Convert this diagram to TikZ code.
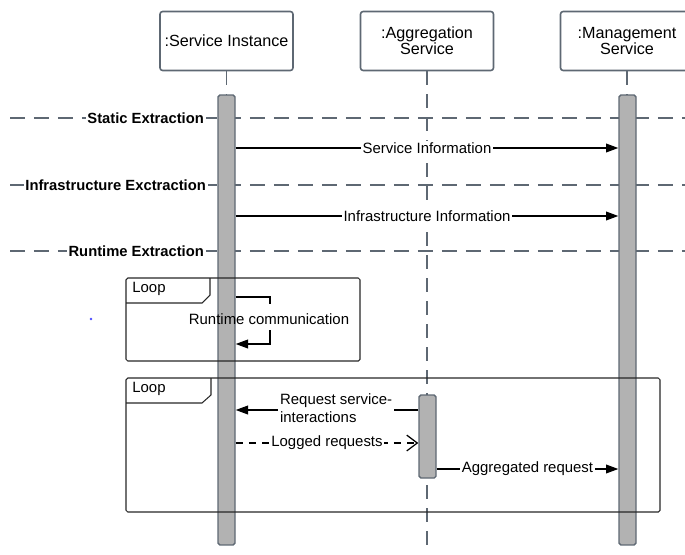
\documentclass[tikz,border=0pt]{standalone}
\usepackage{fontspec}
\setmainfont{Liberation Sans}
\usetikzlibrary{arrows.meta}
\definecolor{lineclr}{HTML}{5E6873}
\definecolor{barfill}{HTML}{B2B2B2}
\begin{document}
\begin{tikzpicture}[x=0.02cm, y=-0.02cm,
  head/.style={draw=lineclr, line width=0.9pt, rounded corners=1.5pt, fill=white,
    minimum width=2.66cm, minimum height=1.18cm, align=center, inner sep=0pt,
    font=\fontsize{9.2}{9.3}\selectfont},
  life/.style={draw=lineclr, line width=0.8pt, dash pattern=on 0.28cm off 0.18cm},
  sep/.style={draw=lineclr, line width=0.8pt, dash pattern=on 0.3cm off 0.18cm},
  bar/.style={draw=lineclr, fill=barfill, line width=0.8pt, rounded corners=1pt,
    minimum width=0.34cm, inner sep=0pt},
  msg/.style={draw=black, line width=0.7pt, -{Triangle[length=7pt,width=5pt]}},
  reply/.style={draw=black, line width=0.7pt, dash pattern=on 4pt off 3.5pt,
    -{Straight Barb[length=6pt,width=9pt]}},
  lbl/.style={fill=white, inner sep=1pt, font=\fontsize{8.5}{10.2}\selectfont},
  phase/.style={fill=white, inner sep=1pt, font=\bfseries\fontsize{8.4}{10}\selectfont},
  frame/.style={draw=black!85, line width=0.6pt, rounded corners=1pt}
]
\useasboundingbox (0,0) rectangle (685,554);

% participants
\node[head] (si) at (226.5,41) {:Service Instance};
\node[head] (ag) at (427,41) {:Aggregation\\Service};
\node[head] (ms) at (627,41) {:Management\\Service};

% lifelines
\coordinate (e1) at (226.5,554);
\coordinate (e2) at (427,554);
\coordinate (e3) at (627,554);
\draw[life] (si.south) -- (e1);
\draw[life] (ag.south) -- (e2);
\draw[life] (ms.south) -- (e3);

% phase separators
\foreach \y in {118,185,251} \draw[sep] (10,\y) -- (685,\y);
\node[phase, anchor=east] (p1) at (206,118) {Static Extraction};
\node[phase, anchor=east] (p2) at (208,185) {Infrastructure Exctraction};
\node[phase, anchor=east] (p3) at (206,251) {Runtime Extraction};

% activation bars
\node[bar, minimum height=9cm] (b1) at (226.5,320) {};
\node[bar, minimum height=9cm] (b3) at (627.5,320) {};
\node[bar, minimum height=1.66cm] (b2) at (427.5,436.5) {};

% message rows
\coordinate (ySI) at (0,148);
\coordinate (yII) at (0,216);
\coordinate (yRt) at (0,297);
\coordinate (yRb) at (0,344);
\coordinate (yRq) at (0,410);
\coordinate (yLg) at (0,443);
\coordinate (yAg) at (0,469);
\coordinate (rt1) at (270,304);
\coordinate (rt2) at (270,330);

\draw[msg] (b1.east |- ySI) -- node[lbl] (m1) {Service Information} (b3.west |- ySI);
\draw[msg] (b1.east |- yII) -- node[lbl] (m2) {Infrastructure Information} (b3.west |- yII);

% self call
\draw[black, line width=0.7pt] (b1.east |- yRt) -| (rt1);
\draw[msg] (rt2) |- (b1.east |- yRb);
\node[inner sep=0pt, font=\fontsize{8.5}{10}\selectfont] (m3) at (269,319) {Runtime communication};

% second loop messages
\draw[msg] (b2.west |- yRq) -- (b1.east |- yRq);
\node[lbl, anchor=west, align=left] (m4) at (278,408) {Request service-\\interactions};
\draw[reply] (b1.east |- yLg) -- node[lbl] (m5) {Logged requests} (b2.west |- yLg);
\draw[msg] (b2.east |- yAg) -- node[lbl] (m6) {Aggregated request} (b3.west |- yAg);

% combined fragments
\draw[frame] (126,278) rectangle (360,361);
\draw[frame, rounded corners=0pt] (126,303) -- (202,303) -- (210,295) -- (210,278);
\node[anchor=west, inner sep=0pt, font=\fontsize{8.5}{10}\selectfont] (l1) at (132,289) {Loop};

\draw[frame] (126,378) rectangle (660,512);
\draw[frame, rounded corners=0pt] (126,403) -- (202,403) -- (211,395) -- (211,378);
\node[anchor=west, inner sep=0pt, font=\fontsize{8.5}{10}\selectfont] (l2) at (132,389) {Loop};

% stray dot
\fill[blue!70] (91,319) circle[radius=0.8pt];
\end{tikzpicture}
\end{document}
